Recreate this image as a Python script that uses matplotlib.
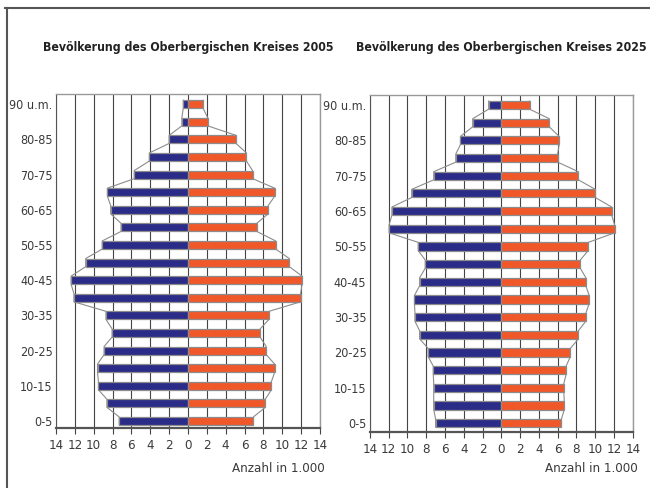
import numpy as np
import matplotlib.pyplot as plt
from matplotlib.lines import Line2D
from matplotlib import font_manager

# age groups from bottom (0-5) to top (90 u.m.)
age_groups = ['0-5', '5-10', '10-15', '15-20', '20-25', '25-30', '30-35', '35-40',
              '40-45', '45-50', '50-55', '55-60', '60-65', '65-70', '70-75',
              '75-80', '80-85', '85-90', '90 u.m.']

# Anzahl in 1.000
men_2005 = [7.3, 8.6, 9.5, 9.6, 8.9, 8.05, 8.7, 12.1, 12.4, 10.85,
            9.1, 7.1, 8.2, 8.55, 5.7, 4.1, 2.0, 0.65, 0.5]
women_2005 = [6.95, 8.2, 8.85, 9.2, 8.3, 7.65, 8.6, 11.95, 12.1, 10.75,
              9.3, 7.3, 8.5, 9.2, 6.85, 6.2, 5.1, 2.1, 1.6]

men_2025 = [7.0, 7.2, 7.2, 7.25, 7.8, 8.7, 9.2, 9.25, 8.7, 8.1,
            8.85, 11.95, 11.65, 9.55, 7.2, 4.85, 4.35, 3.05, 1.35]
women_2025 = [6.4, 6.7, 6.65, 6.9, 7.35, 8.2, 9.0, 9.35, 9.0, 8.4,
              9.25, 12.05, 11.75, 10.0, 8.2, 6.0, 6.15, 5.1, 3.0]

xticks = np.arange(-14, 15, 2)
BLUE = '#2b2b88'
ORANGE = '#f0582a'
EDGE = '#8c8c8c'

# narrow/condensed font if there is one, else Liberation Sans (helvetica-like)
FONT = dict(family='Liberation Sans')
for f in font_manager.fontManager.ttflist:
    if 'Narrow' in f.name or 'Condensed' in f.name:
        FONT = dict(family=f.name)
        break
    if f.stretch not in ('normal', 400) and f.name in ('Liberation Sans', 'DejaVu Sans', 'Roboto'):
        FONT = dict(family=f.name, stretch='condensed')
        break


def envelope(vals, h):
    xs, ys = [], []
    for i, v in enumerate(vals):
        xs += [v, v]
        ys += [i - h / 2, i + h / 2]
    return xs, ys


def fit_text(t, width_px):
    r = fig.canvas.get_renderer()
    w = t.get_window_extent(r).width
    if w > width_px:
        t.set_fontsize(t.get_fontsize() * width_px / w)


def pyramid(ax, men, women, title, ylim):
    y = np.arange(len(age_groups))
    h = 0.46
    ax.set_xlim(-14, 14)
    ax.set_ylim(*ylim)
    for xt in xticks:
        ax.axvline(xt, color='#444444', lw=0.8, zorder=0)

    ax.barh(y, -np.array(men), height=h, color=BLUE, edgecolor=EDGE, lw=0.9, zorder=3)
    ax.barh(y, women, height=h, color=ORANGE, edgecolor=EDGE, lw=0.9, zorder=3)

    xs, ys = envelope(-np.array(men), h)
    ax.plot(xs, ys, color=EDGE, lw=0.8, zorder=2)
    xs, ys = envelope(women, h)
    ax.plot(xs, ys, color=EDGE, lw=0.8, zorder=2)

    ax.set_xticks(xticks)
    ax.set_xticklabels([str(abs(t)) for t in xticks], fontsize=9.5, color='#3a3a3a', **FONT)
    ax.set_yticks(y[::2])
    ax.set_yticklabels(age_groups[::2], fontsize=9, color='#3a3a3a', **FONT)
    ax.tick_params(axis='y', length=0, pad=2.5)
    ax.tick_params(axis='x', length=4, width=0.8, color='#444444', pad=4)

    for side in ['top', 'right']:
        ax.spines[side].set_color('#999999')
        ax.spines[side].set_linewidth(1.0)
    ax.spines['left'].set_color('#555555')
    ax.spines['bottom'].set_color('#555555')
    ax.spines['bottom'].set_linewidth(1.6)

    pos = ax.get_position()
    t = fig.text((pos.x0 + pos.x1) / 2, 0.902, title, ha='center', va='center',
                 fontsize=12, fontweight='bold', color='#222222', **FONT)
    fit_text(t, 290)
    fig.text(pos.x1 + 0.008, 0.040, 'Anzahl in 1.000', ha='right', va='center',
             fontsize=9.5, color='#3a3a3a', **FONT)


fig = plt.figure(figsize=(6.5, 4.88), dpi=100)
ax1 = fig.add_axes([0.0862, 0.123, 0.406, 0.684])
ax2 = fig.add_axes([0.569, 0.1148, 0.4046, 0.6905])

pyramid(ax1, men_2005, women_2005, 'Bevölkerung des Oberbergischen Kreises 2005', (-0.4, 18.57))
pyramid(ax2, men_2025, women_2025, 'Bevölkerung des Oberbergischen Kreises 2025', (-0.5, 18.57))

# frame lines of the original page
fig.add_artist(Line2D([5 / 650, 1], [1 - 8 / 488, 1 - 8 / 488], color='#555555', lw=1.5))
fig.add_artist(Line2D([7 / 650, 7 / 650], [0, 1 - 8 / 488], color='#555555', lw=1.5))

fig.savefig('out.png', dpi=100)
